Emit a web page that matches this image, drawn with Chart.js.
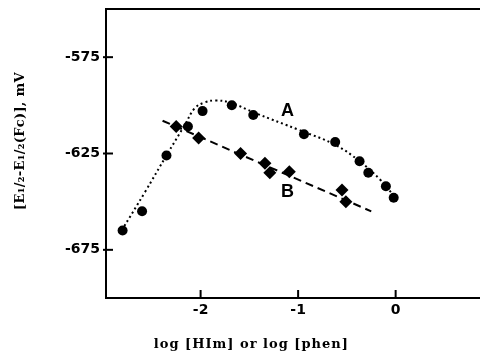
<!DOCTYPE html>
<html>
<head>
<meta charset="utf-8">
<script src="https://cdn.jsdelivr.net/npm/chart.js@4.4.1/dist/chart.umd.min.js"></script>
<style>
  html, body { margin: 0; padding: 0; background: #fff; }
</style>
</head>
<body>
<canvas id="chart" width="480" height="356"></canvas>
<script>
  /* measured points, curve A (circles) and curve B (diamonds) */
  var aX = [-2.80, -2.60, -2.35, -2.13, -1.98, -1.68, -1.46, -0.94, -0.62, -0.37, -0.28, -0.10, -0.02];
  var aY = [-665, -655, -626, -611, -603, -600, -605, -615, -619, -629, -635, -642, -648];
  var bX = [-2.25, -2.02, -1.59, -1.34, -1.29, -1.09, -0.55, -0.51];
  var bY = [-611, -617, -625, -630, -635, -634.5, -644, -650];

  /* hand-drawn fit lines */
  var aFitX = [-2.81, -2.57, -2.35, -2.16, -2.06, -1.96, -1.85, -1.70, -1.44, -0.98, -0.62, -0.37, -0.16, -0.01];
  var aFitY = [-665, -645, -626, -610, -601.5, -598.5, -597.5, -598.5, -604, -613, -620.5, -629, -638.5, -647.5];
  var bFitX = [-2.39, -0.25];
  var bFitY = [-608, -655];

  var xTicks = [-2, -1, 0];
  var yTicks = [-675, -625, -575];

  /* curve names, placed in data units */
  var curveNames = ['A', 'B'];
  var curveNameX = [-1.11, -1.11];
  var curveNameY = [-603, -645];

  /* axis titles; the originals are not centred on the axes */
  var xTitle = 'log [HIm] or log [phen]';
  var yTitle = '[E\u2081/\u2082-E\u2081/\u2082(Fc)], mV';
  var xTitleAt = -1.48;
  var yTitleAt = -618.5;

  function pts(xs, ys) {
    return xs.map(function (x, i) { return { x: x, y: ys[i] }; });
  }

  /* top frame line, inward tick marks, curve names and axis titles */
  var framePlugin = {
    id: 'frame',
    afterDraw: function (chart) {
      var ctx = chart.ctx, a = chart.chartArea;
      var xs = chart.scales.x, ys = chart.scales.y;
      ctx.save();
      ctx.strokeStyle = '#000';
      ctx.lineWidth = 2;
      ctx.beginPath(); ctx.moveTo(a.left - 1, a.top); ctx.lineTo(a.right, a.top); ctx.stroke();
      xTicks.forEach(function (v) {
        var px = xs.getPixelForValue(v);
        ctx.beginPath(); ctx.moveTo(px, a.bottom); ctx.lineTo(px, a.bottom - 8); ctx.stroke();
      });
      yTicks.forEach(function (v) {
        var py = ys.getPixelForValue(v);
        ctx.beginPath(); ctx.moveTo(a.left - 3, py); ctx.lineTo(a.left + 7, py); ctx.stroke();
      });

      ctx.fillStyle = '#000';
      ctx.textAlign = 'center';
      ctx.textBaseline = 'middle';
      ctx.font = 'bold 18px "Liberation Sans"';
      curveNames.forEach(function (t, i) {
        ctx.fillText(t, xs.getPixelForValue(curveNameX[i]), ys.getPixelForValue(curveNameY[i]));
      });

      ctx.font = 'bold 13px "DejaVu Serif"';
      ctx.letterSpacing = '1px';
      ctx.fillText(xTitle, xs.getPixelForValue(xTitleAt), a.bottom + 47);
      ctx.letterSpacing = '0.3px';
      ctx.translate(a.left - 85, ys.getPixelForValue(yTitleAt));
      ctx.rotate(-Math.PI / 2);
      ctx.fillText(yTitle, 0, 0);
      ctx.restore();
    }
  };

  var tickFont = { family: '"DejaVu Sans"', size: 14, weight: 'bold' };

  new Chart(document.getElementById('chart').getContext('2d'), {
    type: 'scatter',
    data: {
      datasets: [
        { label: 'A', data: pts(aX, aY), pointStyle: 'circle', pointRadius: 5, pointHoverRadius: 5,
          backgroundColor: '#000', borderColor: '#000', borderWidth: 0, showLine: false },
        { label: 'B', data: pts(bX, bY), pointStyle: 'rectRot', pointRadius: 6.5, pointHoverRadius: 6.5,
          backgroundColor: '#000', borderColor: '#000', borderWidth: 0, showLine: false },
        { label: 'A fit', data: pts(aFitX, aFitY), showLine: true, pointRadius: 0, tension: 0.4,
          borderColor: '#000', borderWidth: 2, borderDash: [2, 3] },
        { label: 'B fit', data: pts(bFitX, bFitY), showLine: true, pointRadius: 0,
          borderColor: '#000', borderWidth: 2, borderDash: [8, 5] },
      ],
    },
    options: {
      responsive: false, animation: false, devicePixelRatio: 1,
      layout: { autoPadding: false, padding: { top: 9, right: 0, bottom: 0, left: 0 } },
      plugins: { legend: { display: false }, tooltip: { enabled: false } },
      scales: {
        x: {
          type: 'linear', min: -2.97, max: 0.865,
          afterBuildTicks: function (s) { s.ticks = xTicks.map(function (v) { return { value: v }; }); },
          afterFit: function (s) { s.height = 58; s.paddingLeft = 0; s.paddingRight = 0; },
          grid: { display: false, drawTicks: false },
          border: { display: true, color: '#000', width: 2 },
          ticks: { color: '#000', font: tickFont, padding: 4, maxRotation: 0 },
        },
        y: {
          type: 'linear', min: -700, max: -550,
          afterBuildTicks: function (s) { s.ticks = yTicks.map(function (v) { return { value: v }; }); },
          afterFit: function (s) { s.width = 106; s.paddingTop = 0; s.paddingBottom = 0; },
          grid: { display: false, drawTicks: false },
          border: { display: true, color: '#000', width: 2 },
          ticks: { color: '#000', font: tickFont, padding: 6 },
        },
      },
    },
    plugins: [framePlugin],
  });
</script>
</body>
</html>
